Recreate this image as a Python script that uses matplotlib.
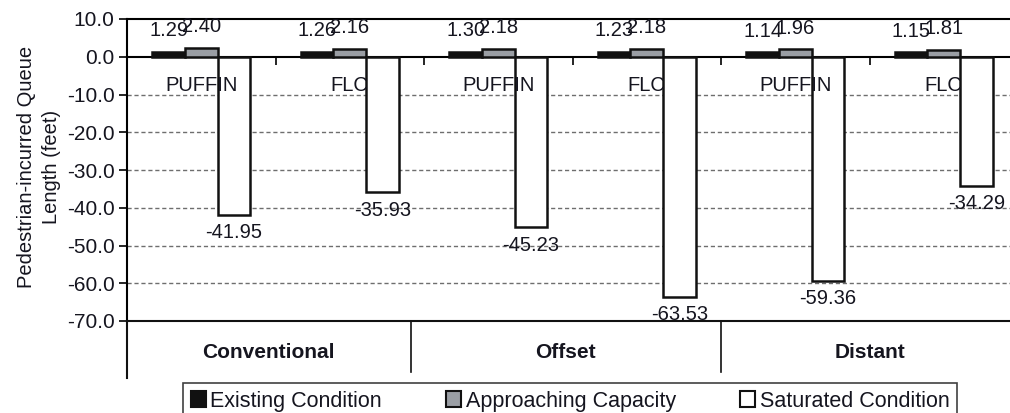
import matplotlib.pyplot as plt
from matplotlib.patches import Patch
import matplotlib.transforms as mtransforms
import numpy as np

# queue length per crossing type and layout (feet)
layouts = ["Conventional", "Offset", "Distant"]
crossings = ["PUFFIN", "FLC", "PUFFIN", "FLC", "PUFFIN", "FLC"]
existing = [1.29, 1.26, 1.30, 1.23, 1.14, 1.15]
approaching = [2.40, 2.16, 2.18, 2.18, 1.96, 1.81]
saturated = [-41.95, -35.93, -45.23, -63.53, -59.36, -34.29]

series = [
    ("Existing Condition", existing, "#111111"),
    ("Approaching Capacity", approaching, "#9a9ea4"),
    ("Saturated Condition", saturated, "white"),
]

plt.rcParams["font.family"] = ["Liberation Sans", "DejaVu Sans"]
TXT = "#15151f"

W, H = 1010, 413
fig = plt.figure(figsize=(W / 100, H / 100), dpi=100)
ax = fig.add_axes([127 / W, 1 - 321 / H, (1018 - 127) / W, (321 - 19) / H])

x = np.arange(len(crossings))
bw = 0.22
for i, (name, vals, col) in enumerate(series):
    pos = x + (i - 1) * bw
    ax.bar(pos, vals, bw, color=col, edgecolor="#111111", linewidth=1.8, zorder=3)
    for px, v in zip(pos, vals):
        off = 5.6 if v > 0 else -4.7
        ax.text(px, v + off, f"{v:.2f}", ha="center", va="center",
                fontsize=14.5, color=TXT, zorder=6)

ax.set_xlim(-0.5, 5.5)
ax.set_ylim(-70, 10)
ax.set_yticks(np.arange(-70, 11, 10))
ax.set_yticklabels([f"{t:.1f}" for t in np.arange(-70, 11, 10)], fontsize=15, color=TXT)
ax.tick_params(axis="y", direction="out", length=6, width=1.2, pad=3)

for y in range(-60, 0, 10):
    ax.axhline(y, color="#6e6e6e", linewidth=1.0, linestyle=(0, (3, 2)), zorder=1)

# category axis crosses at zero
ax.spines["bottom"].set_position(("data", 0))
ax.spines["bottom"].set_linewidth(1.5)
ax.spines["left"].set_linewidth(1.5)
ax.spines["top"].set_linewidth(1.5)
ax.spines["right"].set_visible(False)
ax.set_xticks(x[:-1] + 0.5)
ax.set_xticklabels([])
ax.tick_params(axis="x", direction="out", length=6, width=1.2)
ax.axhline(-70, color="#111111", linewidth=1.5, clip_on=False, zorder=4)

for xi, lab in zip(x, crossings):
    ax.text(xi, -7.5, lab, ha="center", va="center", fontsize=14.5, color=TXT, zorder=5)

# layout labels underneath the plot
trans = mtransforms.blended_transform_factory(ax.transData, ax.transAxes)
ax.plot([-0.5, -0.5], [0, -0.19], color="#111111", lw=1.5, transform=trans, clip_on=False)
seps = [1.41, 3.5]
for s in seps:
    ax.plot([s, s], [0, -0.17], color="#111111", lw=1.2, transform=trans, clip_on=False)
bounds = [-0.5] + seps + [5.5]
for k, lab in enumerate(layouts):
    cx = (bounds[k] + bounds[k + 1]) / 2
    ax.text(cx, -0.103, lab, ha="center", va="center", fontsize=15, fontweight="bold",
            color=TXT, transform=trans)

ax.set_ylabel("Pedestrian-incurred Queue\nLength (feet)", fontsize=14.5, color=TXT,
              linespacing=1.4)
ax.yaxis.set_label_coords(-0.074, 0.51)

handles = [Patch(facecolor=c, edgecolor="#111111", linewidth=1.5, label=n) for n, _, c in series]
leg = fig.legend(handles=handles, loc="upper center", bbox_to_anchor=(570 / W, 1 - 383 / H),
                 ncol=3, frameon=True, fancybox=False, edgecolor="#111111",
                 handlelength=0.7, handleheight=0.7, handletextpad=0.2,
                 columnspacing=3.0, borderpad=0.35, borderaxespad=0,
                 prop={"size": 15.5})
leg.get_frame().set_linewidth(1.2)
for t in leg.get_texts():
    t.set_color(TXT)

fig.savefig("out.png", dpi=100)
